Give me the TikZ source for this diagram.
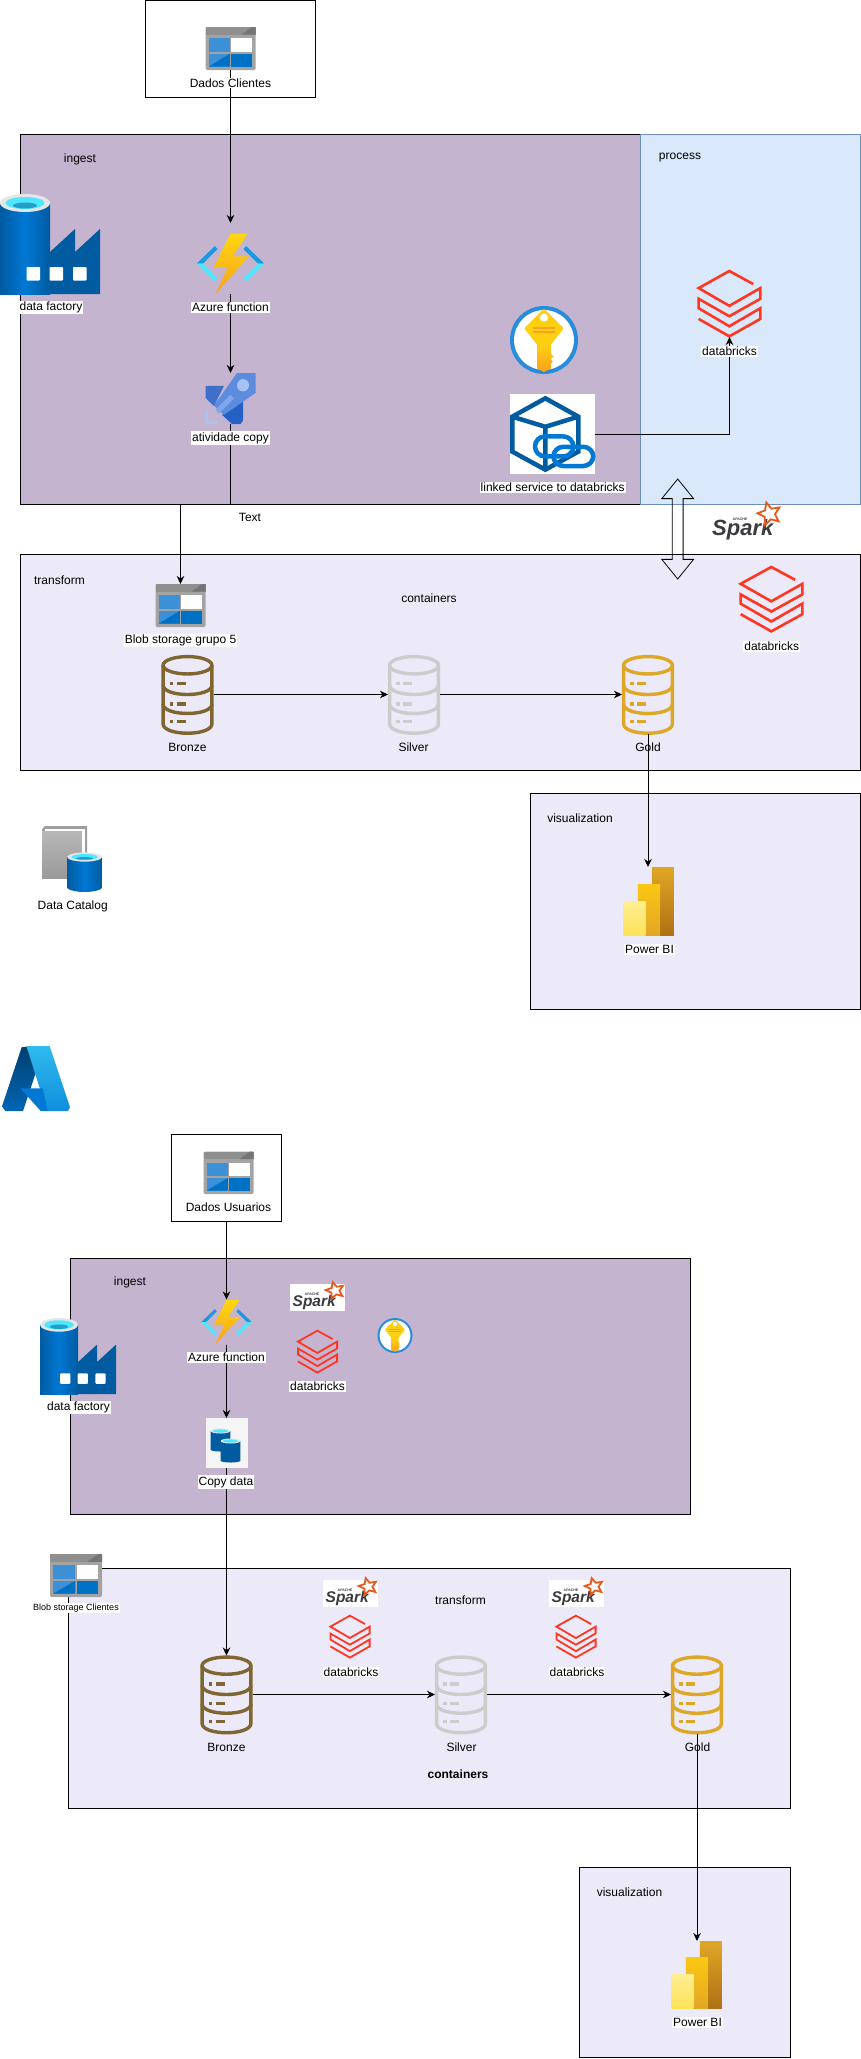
\documentclass[tikz,border=0pt]{standalone}
\usepackage{fontspec}
\setmainfont{Liberation Sans}
\usetikzlibrary{arrows.meta, shapes.arrows}
\definecolor{IngestFill}{HTML}{C5B4CF}
\definecolor{StageFill}{HTML}{ECEAF8}
\definecolor{ProcessFill}{HTML}{DAE8FC}
\definecolor{ProcessLine}{HTML}{6C8EBF}
\definecolor{AzureDeep}{HTML}{005BA1}
\definecolor{AzureMid}{HTML}{0078D4}
\definecolor{AzureCyan}{HTML}{50E6FF}
\definecolor{AzureTeal}{HTML}{1EA0C8}
\definecolor{BlobLight}{HTML}{3B90D8}
\definecolor{BlobDark}{HTML}{0072C6}
\definecolor{RocketLeft}{HTML}{3F6FC9}
\definecolor{RocketLow}{HTML}{2560C4}
\definecolor{RocketBody}{HTML}{5C8BE0}
\definecolor{RocketPale}{HTML}{A8C2F2}
\definecolor{RocketStripe}{HTML}{7EA6EA}
\definecolor{BrickRed}{HTML}{FF3621}
\definecolor{BronzeLine}{HTML}{7F6530}
\definecolor{SilverLine}{HTML}{CCCCCC}
\definecolor{GoldLine}{HTML}{DDA827}
\definecolor{SparkOrange}{HTML}{E8591C}
\definecolor{SparkInk}{HTML}{3C3A3E}
\definecolor{BoltTop}{HTML}{FED70F}
\definecolor{BoltEnd}{HTML}{F8A11D}

% every icon is drawn in a 100 x 100 box, y going down
\tikzset{
    pics/blobicon/.style={code={
        \fill[rounded corners=1.5pt, black!36] (0,0) rectangle (100,100);
        \fill[black!44] (0,0) rectangle (100,18);
        \fill[black!54] (72,18) -- (93,0) -- (100,0) -- (100,18) -- cycle;
        \fill[BlobLight] (6.7,26) rectangle (48.7,58);
        \fill[white] (51.3,26) rectangle (92,58);
        \fill[BlobLight] (6.7,62) rectangle (48.7,92);
        \fill[BlobDark] (6.7,92) -- (48.7,62) -- (48.7,92) -- cycle;
        \fill[BlobDark] (51.3,62) rectangle (92,92);
    }},
    pics/adficon/.style={code={
        \fill[AzureDeep] (50,100) -- (100,100) -- (100,35) -- (75,58) -- (75,35) -- (50,58) -- cycle;
        \shade[left color=AzureDeep, right color=AzureDeep, middle color=AzureMid] (0,9) rectangle (50,100);
        \foreach \wx in {26.5,49.5,73} {
            \fill[white, rounded corners=0.8pt] (\wx,73) rectangle ++(13.5,13.5);
        }
        \fill[black!10] (25,9) ellipse [x radius=25, y radius=9];
        \fill[AzureCyan] (25,9) ellipse [x radius=19.5, y radius=6];
        \fill[AzureTeal] (25,11.5) ellipse [x radius=12, y radius=3];
    }},
    pics/fnicon/.style={code={
        \fill[AzureMid!70!AzureCyan] (27,21.5) -- (31,26.5) -- (9.8,50) -- (0.5,50) -- cycle;
        \fill[AzureCyan] (0.5,50) -- (9.8,50) -- (31,74) -- (27,80) -- cycle;
        \fill[AzureMid!70!AzureCyan] (73,21.5) -- (69,26.5) -- (90.2,50) -- (99.5,50) -- cycle;
        \fill[AzureCyan] (99.5,50) -- (90.2,50) -- (69,74) -- (73,80) -- cycle;
        \shade[top color=BoltTop, bottom color=BoltEnd] (50,1) -- (75.5,1) -- (53.4,38.5) -- (77,38.5) -- (28,100) -- (46,56) -- (25.5,56) -- cycle;
    }},
    pics/rocketicon/.style={code={
        \fill[RocketLeft] (0,25) -- (37,25) -- (17,65) -- (0,49) -- cycle;
        \fill[RocketLow] (75,52) -- (75,93) -- (70,100) -- (53,100) -- (33,82) -- cycle;
        \fill[RocketBody] (63,0) -- (100,0) -- (100,39) -- (37,82) -- (17,64) -- cycle;
        \fill[RocketPale] (75,24) circle [x radius=12, y radius=12];
        \fill[RocketStripe] (50,43) -- (57,50) -- (27,79) -- (20,72) -- cycle;
        \fill[RocketPale] (0,75) -- (5,75) -- (5,94) -- (25,94) -- (25,100) -- (0,100) -- cycle;
    }},
    pics/keyicon/.style={code={
        \fill[AzureMid!85!white] (50,50) circle [x radius=50, y radius=50];
        \fill[white] (50,50) circle [x radius=44, y radius=44];
        \shade[top color=BoltTop, bottom color=BoltEnd] (40,50) -- (60,50) -- (60,70) -- (64,74) -- (60,78) -- (63,82) -- (60,85) -- (60,92) -- (50,97) -- (40,92) -- cycle;
        \fill[BoltTop!85!BoltEnd, rounded corners=1pt] (50,4) -- (79,33) -- (60,57) -- (40,57) -- (21,33) -- cycle;
        \fill[white] (50,17) circle [x radius=6, y radius=6];
        \fill[BoltEnd] (34,31) rectangle (66,33.5);
        \fill[BoltEnd] (34,37) rectangle (66,39.5);
    }},
    pics/linkicon/.style={code={
        \fill[white] (0,0) rectangle (100,100);
        \draw[AzureDeep, line width=4.5pt, line join=miter] (41.6,5.4) -- (80.4,28.3) -- (80.4,72) -- (41.6,94.6) -- (2.7,72) -- (2.7,28.3) -- cycle;
        \draw[AzureDeep, line width=4.5pt] (2.7,28.3) -- (41.6,41) -- (80.4,28.3) (41.6,41) -- (41.6,94.6);
        \draw[AzureMid, line width=4.5pt, rounded corners=10pt] (29.4,53) rectangle (74.5,78);
        \draw[AzureMid, line width=4.5pt, rounded corners=10pt] (51,66) rectangle (98,90);
    }},
    pics/brickicon/.style={code={
        \draw[BrickRed, line width=#1, line join=miter] (87.7,21) -- (49.7,1.5) -- (1,27) -- (49.7,53.5) -- (99,27) -- (99,43) -- (49.7,69) -- (1,43) -- (1,57) -- (49.7,84) -- (99,57) -- (99,73) -- (49.7,99) -- (1,73);
    }},
    pics/drumicon/.style={code={
        \draw[#1, line width=3.4pt] (50,13) ellipse [x radius=47, y radius=11];
        \draw[#1, line width=3.4pt, line join=round] (3,13) -- (3,87) .. controls (3,103) and (97,103) .. (97,87) -- (97,13);
        \draw[#1, line width=3.4pt] (3,38) .. controls (3,54) and (97,54) .. (97,38);
        \draw[#1, line width=3.4pt] (3,62) .. controls (3,78) and (97,78) .. (97,62);
        \foreach \rowy in {34.5,60,82.5} {
            \fill[#1] (16,\rowy) rectangle ++(7,4);
            \fill[#1] (29,\rowy) rectangle ++(18,4);
        }
    }},
    pics/biicon/.style={code={
        \shade[top color=GoldLine!90!BoltEnd, bottom color=BoltEnd!70!black] (55.4,0) rectangle (99,100);
        \shade[top color=BoltTop!70!BoltEnd, bottom color=GoldLine!80!BoltEnd] (28,25) rectangle (71.6,100);
        \shade[top color=BoltTop!45!white, bottom color=BoltTop!70!white] (0,50) rectangle (43,100);
    }},
    pics/catalogicon/.style={code={
        \fill[black!38] (0,5) -- (5,0) -- (75,0) -- (75,80) -- (0,80) -- cycle;
        \fill[white] (5,4) -- (72,4) -- (72,8) -- (5,8) -- cycle;
        \fill[white] (66,4) rectangle (72,80);
        \shade[top color=black!28, bottom color=black!40] (0,8) rectangle (66,80);
        \shade[left color=AzureDeep, right color=AzureDeep, middle color=AzureMid] (42,47) -- (42,94) .. controls (50,102) and (92,102) .. (100,94) -- (100,47) -- cycle;
        \fill[black!10] (71,47) ellipse [x radius=29, y radius=7];
        \fill[AzureCyan] (71,47) ellipse [x radius=22, y radius=4.5];
        \fill[AzureTeal] (71,49) ellipse [x radius=14, y radius=2];
    }},
    pics/copyicon/.style={code={
        \fill[black!4] (0,0) rectangle (100,100);
        \foreach \cx/\ty/\by in {12/21/67,36/41/89} {
            \fill[AzureDeep] (\cx,\ty+5) -- (\cx,\by-3) .. controls (\cx+8,\by+1) and (\cx+40,\by+1) .. (\cx+47,\by-3) -- (\cx+47,\ty+5) -- cycle;
            \fill[black!10] (\cx+23.5,\ty+5) ellipse [x radius=23.5, y radius=5];
            \fill[AzureCyan] (\cx+23.5,\ty+5) ellipse [x radius=18, y radius=3.2];
        }
    }},
    pics/azureicon/.style={code={
        \shade[top color=AzureDeep!70!black, bottom color=AzureMid!85!black] (29,2) -- (36,1) -- (51,37) -- (31,100) -- (5,100) -- (0,93) -- cycle;
        \shade[top color=AzureCyan!60!AzureMid, bottom color=AzureMid!80!AzureCyan] (36,0) -- (70,0) -- (100,94) -- (97,100) -- (66,100) -- cycle;
        \fill[AzureMid] (27,65) -- (60,65) -- (67,100) -- (57,100) -- cycle;
    }},
    pics/sparkmark/.style={code={
        \fill[white] (0,0) rectangle (100,100);
        \node[text=SparkInk, inner sep=0pt, font=\fontsize{#1}{#1}\selectfont\bfseries\itshape] (sparkword) at (44,68) {Spark};
        \node[text=SparkInk, inner sep=0pt, font=\fontsize{3.5}{4}\selectfont\bfseries] (sparkapache) at (40,39) {APACHE};
        \draw[SparkOrange, line width=1.8pt, line join=miter]
            \foreach \ang/\rx/\ry [count=\idx] in {105/17/32,141/8/15,177/17/32,213/8/15,249/17/32,285/8/15,321/17/32,357/8/15,33/17/32,69/8/15} {
                \ifnum\idx=1 ({82+\rx*cos(\ang)},{24-\ry*sin(\ang)}) \else -- ({82+\rx*cos(\ang)},{24-\ry*sin(\ang)}) \fi
            } -- cycle;
    }}
}
% name, pic, left, top, width, height
\newcommand{\placeicon}[6]{
    \node[iconslot, minimum width=#5, minimum height=#6, anchor=north west] (#1) at (#3,#4) {};
    \pic[xscale=#5/100, yscale=#6/100] at (#1.north west) {#2};
}

\begin{document}
\begin{tikzpicture}[
        x=1pt, y=-1pt,
        every node/.style={font=\fontsize{12}{14}\selectfont},
        stage/.style={draw, line width=1pt, anchor=north west, inner sep=0pt, outer sep=0pt},
        iconslot/.style={inner sep=0pt, outer sep=0pt},
        lbl/.style={fill=white, inner sep=1pt},
        bare/.style={inner sep=1pt},
        link/.style={draw, line width=1pt, -{Stealth[length=8pt, width=7.5pt, inset=2.5pt]}},
        sparkarrow/.style={double arrow, draw, line width=0.8pt, rotate=90, inner xsep=0pt, inner ysep=5pt, minimum height=100pt, minimum width=31pt,
            double arrow head extend=10.5pt, double arrow head indent=0pt, double arrow tip angle=78}]
    \useasboundingbox (0,0) rectangle (861,2059);

    % first architecture
    \node[stage, fill=white, minimum width=170, minimum height=96.5] (clientsbox) at (145.5,0.5) {};
    \node[stage, fill=IngestFill, minimum width=620, minimum height=369.5] (ingestA) at (20.5,134.5) {};
    \node[stage, fill=ProcessFill, draw=ProcessLine, minimum width=220, minimum height=369.5] (processA) at (640.5,134.5) {};
    \node[stage, fill=StageFill, minimum width=840, minimum height=215.5] (transformA) at (20.5,554.5) {};
    \node[stage, fill=StageFill, minimum width=330, minimum height=216] (visualA) at (530.5,793) {};

    \placeicon{clientsblob}{blobicon}{205.5}{27}{50}{43}
    \placeicon{adfA}{adficon}{0}{194}{100}{100}
    \placeicon{fnA}{fnicon}{196.5}{233}{68}{61}
    \placeicon{copyA}{rocketicon}{205.5}{373}{50}{51}
    \placeicon{keyA}{keyicon}{510}{306}{68}{68}
    \placeicon{linkA}{linkicon}{510}{394}{85}{80}
    \placeicon{brickA}{brickicon=2.6pt}{698}{270}{63}{67}
    \placeicon{sparkA}{sparkmark=22}{712}{505}{70}{37}
    \placeicon{brickB}{brickicon=2.6pt}{740}{566}{63}{66}
    \placeicon{blobA}{blobicon}{155.5}{584}{50}{43}
    \placeicon{bronzeA}{drumicon=BronzeLine}{161.5}{655}{52}{79}
    \placeicon{silverA}{drumicon=SilverLine}{388}{655}{52}{79}
    \placeicon{goldA}{drumicon=GoldLine}{622}{655}{52}{79}
    \placeicon{biA}{biicon}{623.5}{867}{51}{68}
    \placeicon{catalog}{catalogicon}{42}{826}{60}{66}
    \placeicon{azurelogo}{azureicon}{2}{1046}{68}{65}

    \draw[link] (clientsblob.south) -- ([yshift=10pt]fnA.north);
    \draw[link] (fnA.south) -- (copyA.north);
    \draw[link] (copyA.south) -- (copyA.south |- ingestA.south) -| (blobA.north);
    \draw[link] (linkA.east) -| (brickA.south);
    \draw[link] (bronzeA.east) -- (silverA.west);
    \draw[link] (silverA.east) -- (goldA.west);
    \draw[link] (goldA.south) -- (goldA.south |- biA.north);
    \node[sparkarrow] (sparkflow) at (677.7,529) {};

    \node[lbl] (clientslbl) at (230.5,83) {Dados Clientes};
    \node[bare] (ingestlblA) at (80,159) {ingest};
    \node[bare] (processlbl) at (680,158) {process};
    \node[lbl] (adflblA) at (51,307.5) {data factory};
    \node[lbl] (fnlblA) at (230.5,307.5) {Azure function};
    \node[lbl] (copylblA) at (230.5,438) {atividade copy};
    \node[bare] (textlbl) at (250,517) {Text};
    \node[lbl] (linklbl) at (552.7,487.7) {linked service to databricks};
    \node[lbl] (bricklblA) at (729.5,351.5) {databricks};
    \node[lbl] (bricklblB) at (771.7,646.7) {databricks};
    \node[bare] (transformlblA) at (59.5,580) {transform};
    \node[bare] (containerslblA) at (429,598) {containers};
    \node[lbl] (bloblblA) at (180.5,640.5) {Blob storage grupo 5};
    \node[bare] (bronzelblA) at (187.5,747) {Bronze};
    \node[bare] (silverlblA) at (413.5,747) {Silver};
    \node[bare] (goldlblA) at (648,747) {Gold};
    \node[bare] (visuallblA) at (580,818) {visualization};
    \node[lbl] (bilblA) at (649.5,949.5) {Power BI};
    \node[bare] (cataloglbl) at (72.7,906.5) {Data Catalog};

    % second architecture
    \node[stage, fill=white, minimum width=110, minimum height=86.5] (usersbox) at (171.5,1134.5) {};
    \node[stage, fill=IngestFill, minimum width=620, minimum height=256] (ingestB) at (70.5,1258.5) {};
    \node[stage, fill=StageFill, minimum width=722, minimum height=240] (transformB) at (68.5,1568) {};
    \node[stage, fill=StageFill, minimum width=211, minimum height=190] (visualB) at (579.5,1867.5) {};

    \placeicon{usersblob}{blobicon}{203.5}{1151.5}{50}{42.5}
    \placeicon{adfB}{adficon}{40}{1318}{76}{76}
    \placeicon{fnB}{fnicon}{201}{1299.5}{51}{45}
    \placeicon{sparkB}{sparkmark=15.5}{290}{1284}{55}{27}
    \placeicon{brickC}{brickicon=1.8pt}{297.5}{1330}{40}{43}
    \placeicon{keyB}{keyicon}{377.5}{1318}{35}{35}
    \placeicon{copyB}{copyicon}{205.5}{1418}{42}{50}
    \placeicon{blobB}{blobicon}{50}{1554}{52}{43}
    \placeicon{sparkC}{sparkmark=15.5}{323}{1580}{55}{27}
    \placeicon{brickD}{brickicon=1.8pt}{330}{1615}{40}{43}
    \placeicon{sparkD}{sparkmark=15.5}{549}{1580}{55}{27}
    \placeicon{brickE}{brickicon=1.8pt}{556}{1615}{40}{43}
    \placeicon{bronzeB}{drumicon=BronzeLine}{200.5}{1655.5}{52}{78}
    \placeicon{silverB}{drumicon=SilverLine}{435}{1655.5}{52}{78}
    \placeicon{goldB}{drumicon=GoldLine}{671}{1655.5}{52}{78}
    \placeicon{biB}{biicon}{671.5}{1941}{51}{67}

    \draw[link] (fnB.north |- usersbox.south) -- (fnB.north);
    \draw[link] (fnB.south) -- (copyB.north);
    \draw[link] (copyB.south) -- (bronzeB.north);
    \draw[link] (bronzeB.east) -- (silverB.west);
    \draw[link] (silverB.east) -- (goldB.west);
    \draw[link] (goldB.south) -- (goldB.south |- biB.north);

    \node[bare] (userslbl) at (228.5,1207.5) {Dados Usuarios};
    \node[bare] (ingestlblB) at (130,1282.5) {ingest};
    \node[lbl] (adflblB) at (78.5,1407.5) {data factory};
    \node[lbl] (fnlblB) at (226.5,1357.5) {Azure function};
    \node[lbl] (bricklblC) at (317.5,1386.5) {databricks};
    \node[lbl] (copylblB) at (226,1482) {Copy data};
    \node[lbl, font=\fontsize{9}{11}\selectfont] (bloblblB) at (76,1608) {Blob storage Clientes};
    \node[bare] (transformlblB) at (460.5,1600) {transform};
    \node[lbl] (bricklblD) at (351,1672) {databricks};
    \node[lbl] (bricklblE) at (577,1672) {databricks};
    \node[bare] (bronzelblB) at (226.5,1747) {Bronze};
    \node[bare] (silverlblB) at (461.5,1747) {Silver};
    \node[bare] (goldlblB) at (697.5,1747) {Gold};
    \node[bare, font=\fontsize{12}{14}\selectfont\bfseries] (containerslblB) at (458,1774) {containers};
    \node[bare] (visuallblB) at (629.5,1892) {visualization};
    \node[lbl] (bilblB) at (697.5,2022.5) {Power BI};
\end{tikzpicture}
\end{document}
